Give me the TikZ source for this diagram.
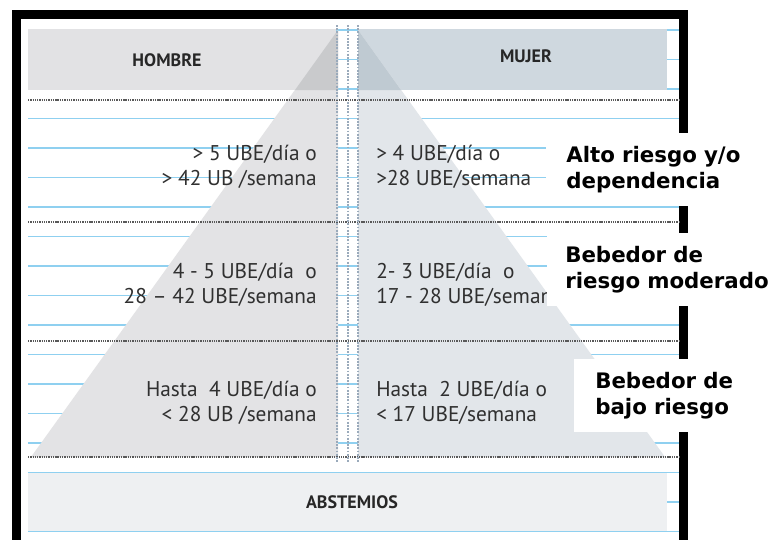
\documentclass[tikz,border=0pt]{standalone}
\usepackage{fontspec}
\setmainfont{PT Sans}
\newfontfamily\nivelfont{DejaVu Sans}
\usepackage{tikz}
\definecolor{rayas}{HTML}{8FD0F0}
\definecolor{hombre}{HTML}{E2E2E4}
\definecolor{hombreosc}{HTML}{C9CACC}
\definecolor{mujer}{HTML}{CFD8DF}
\definecolor{mujerosc}{HTML}{BFCAD2}
\definecolor{pirh}{HTML}{E3E3E5}
\definecolor{pirm}{HTML}{E2E6EA}
\definecolor{abst}{HTML}{EEF0F2}
\definecolor{ejes}{HTML}{9AAABB}
\definecolor{texto}{HTML}{303030}

\begin{document}
\begin{tikzpicture}[x=0.75pt, y=-0.75pt,
    raya/.style={draw=rayas, line width=1.1pt},
    puntos/.style={draw=black!65, line width=1.5pt, dash pattern=on 1pt off 0.7pt},
    eje/.style={draw=ejes, line width=1.1pt, dash pattern=on 1.4pt off 1pt},
    dato/.style={inner sep=0pt, text=texto, font=\fontsize{16}{18.5}\selectfont},
    cabeza/.style={inner sep=0pt, text=texto!80!black, font=\bfseries\fontsize{13.5}{15}\selectfont},
    nivel/.style={anchor=north west, fill=white, inner ysep=0pt, text width=170pt, align=left,
        minimum height=54.75pt, font=\nivelfont\bfseries\fontsize{16}{19.5}\selectfont}]

    \useasboundingbox (0,0) rectangle (772,540);
    \fill[black] (12,10) rectangle (688,540);
    \fill[white] (21,19) rectangle (679,540);

    \foreach \k in {0,...,17}
        \draw[raya] (28,{30+29.5*\k}) -- (679,{30+29.5*\k});

    \fill[hombre] (28,29) rectangle (336,90);
    \fill[mujer] (358,29) rectangle (667,90);
    \fill[pirh] (338,30) -- (31,457) -- (338,457) -- cycle;
    \fill[pirm] (358,30) -- (665,457) -- (358,457) -- cycle;
    \fill[hombreosc] (338,30) -- (295,90) -- (338,90) -- cycle;
    \fill[mujerosc] (358,30) -- (401,90) -- (358,90) -- cycle;
    \fill[abst] (28,473) rectangle (667,531);

    \foreach \y in {100,222,341,457}
        \draw[puntos] (28,\y) -- (679,\y);
    \foreach \x in {337,348,358}
        \draw[eje] (\x,25) -- (\x,462);

    \draw(167,60) node[cabeza] (hombre) {HOMBRE};
    \draw(526,56) node[cabeza] (mujer) {MUJER};
    \draw(352,502) node[cabeza] (abstemios) {ABSTEMIOS};

    \draw(317,167) node[dato, anchor=east, align=right] (h1) {> 5 UBE/día o\\> 42 UB /semana};
    \draw(317,284.5) node[dato, anchor=east, align=right] (h2) {4 - 5 UBE/día\ \ o\\28 -- 42 UBE/semana};
    \draw(317,403) node[dato, anchor=east, align=right] (h3) {Hasta\ \ 4 UBE/día o\\< 28 UB /semana};
    \draw(376,167) node[dato, anchor=west, align=left] (m1) {> 4 UBE/día o\\>28 UBE/semana};
    \draw(376,284.5) node[dato, anchor=west, align=left] (m2) {2- 3 UBE/día\ \ o\\17 - 28 UBE/semana};
    \draw(376,403) node[dato, anchor=west, align=left] (m3) {Hasta\ \ 2 UBE/día o\\< 17 UBE/semana};

    \draw(546,133) node[nivel, inner xsep=15pt] (alto) {Alto riesgo y/o\\dependencia};
    \draw(547,233) node[nivel, inner xsep=13.5pt] (moderado) {Bebedor de\\riesgo moderado};
    \draw(574,359) node[nivel, inner xsep=15.75pt] (bajo) {Bebedor de\\bajo riesgo};

\end{tikzpicture}
\end{document}
